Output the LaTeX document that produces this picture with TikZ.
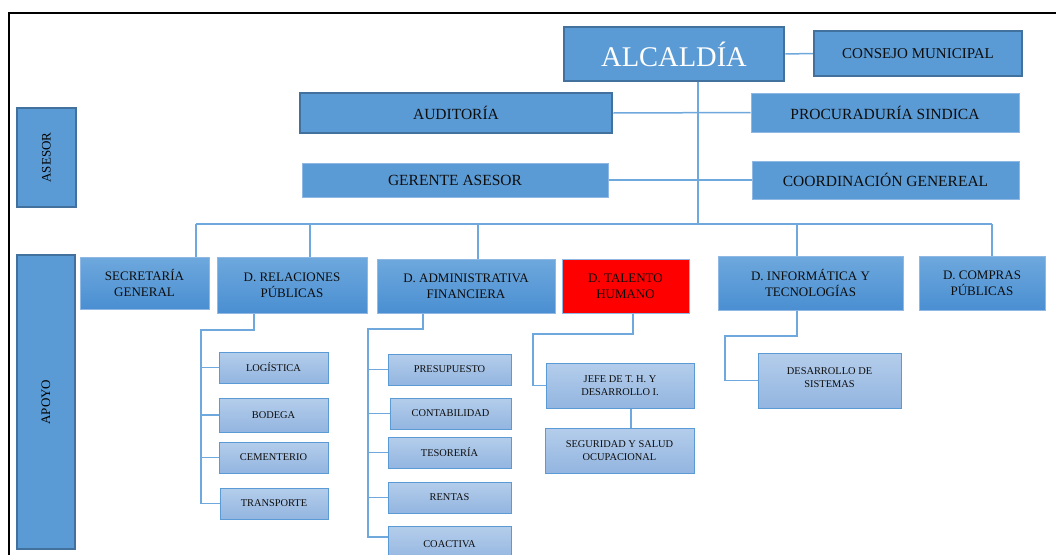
\documentclass[tikz,border=0pt]{standalone}
\usepackage{fontspec}
\setmainfont{Liberation Serif}
\usetikzlibrary{calc}
\definecolor{mblue}{HTML}{5B9BD5}
\definecolor{dblue}{HTML}{41719C}
\definecolor{lblue}{HTML}{8FB8E4}
\definecolor{gtop}{HTML}{6EA8DD}
\definecolor{gbot}{HTML}{4A8FD2}
\definecolor{stop}{HTML}{B4CDEB}
\definecolor{sbot}{HTML}{93B5E0}
\definecolor{linkc}{HTML}{6FA8DC}
\definecolor{txt}{HTML}{0D0D0D}
\tikzset{
 base/.style={rectangle, inner sep=0pt, align=center, text=txt},
 darkbox/.style={base, fill=mblue, draw=dblue, line width=2.5pt},
 flatbox/.style={base, fill=mblue, draw=lblue, line width=1pt, font=\fontsize{15.5}{18}\selectfont},
 deptbox/.style={base, top color=gtop, bottom color=gbot, draw=lblue, line width=1pt, font=\fontsize{13}{16}\selectfont},
 redbox/.style={base, fill=red, draw=lblue, line width=1pt, font=\fontsize{13}{16}\selectfont},
 subbox/.style={base, top color=stop, bottom color=sbot, draw=mblue, line width=1pt, font=\fontsize{10.4}{13}\selectfont},
 link/.style={draw=linkc, line width=1.5pt},
}
\newcommand{\mybox}[7]{\pgfmathsetmacro{\bwd}{#4-#2}\pgfmathsetmacro{\bht}{#5-#3}\node[#6, minimum width=\bwd pt, minimum height=\bht pt] (#1) at ({(#2+#4)/2},{(#3+#5)/2}) {#7};}
\begin{document}
\begin{tikzpicture}[x=1pt,y=-1pt]
\useasboundingbox (0,0) rectangle (1056,554);
\fill[white] (0,0) rectangle (1056,554);
\draw[line width=2pt] (8.5,556) -- (8.5,12.5) -- (1058,12.5);
% top
\mybox{ase}{17}{108}{76}{207}{darkbox, text=black, font=\fontsize{13}{15}\selectfont}{\rotatebox{90}{ASESOR}}
\mybox{apo}{17}{255}{75}{549}{darkbox, text=black, font=\fontsize{13}{15}\selectfont}{\rotatebox{90}{APOYO}}
\mybox{alc}{564}{27}{784}{81}{darkbox, text=white, font=\fontsize{28.5}{32}\selectfont}{ALCALDÍA}
\mybox{con}{814}{31}{1022}{76}{darkbox, font=\fontsize{15}{18}\selectfont}{CONSEJO MUNICIPAL}
\mybox{aud}{300}{93}{612}{133}{darkbox, font=\fontsize{15.5}{18}\selectfont}{AUDITORÍA}
\mybox{pro}{751}{93}{1019}{132}{flatbox}{PROCURADURÍA SINDICA}
\mybox{ger}{302}{163}{608}{197}{flatbox}{GERENTE ASESOR}
\mybox{coo}{752}{161}{1019}{199}{flatbox}{COORDINACIÓN GENEREAL}
% departments
\mybox{sec}{80}{257}{209}{309}{deptbox}{SECRETARÍA\\GENERAL}
\mybox{rel}{217}{257}{367}{313}{deptbox}{D. RELACIONES\\PÚBLICAS}
\mybox{adm}{377}{259}{555}{313}{deptbox}{D. ADMINISTRATIVA\\FINANCIERA}
\mybox{tal}{562}{259}{689}{313}{redbox}{D. TALENTO\\HUMANO}
\mybox{inf}{718}{256}{903}{310}{deptbox}{D. INFORMÁTICA Y\\TECNOLOGÍAS}
\mybox{com}{919}{256}{1045}{310}{deptbox}{D. COMPRAS\\PÚBLICAS}
% sub units
\mybox{log}{219}{352}{328}{383}{subbox}{LOGÍSTICA}
\mybox{bod}{219}{398}{328}{432}{subbox}{BODEGA}
\mybox{cem}{219}{442}{328}{473}{subbox}{CEMENTERIO}
\mybox{tra}{220}{488}{328}{519}{subbox}{TRANSPORTE}
\mybox{pre}{388}{354}{511}{385}{subbox}{PRESUPUESTO}
\mybox{cot}{390}{398}{511}{429}{subbox}{CONTABILIDAD}
\mybox{tes}{388}{437}{511}{468}{subbox}{TESORERÍA}
\mybox{ren}{388}{482}{511}{513}{subbox}{RENTAS}
\mybox{coa}{388}{526}{511}{562}{subbox}{COACTIVA}
\mybox{jef}{546}{363}{694}{408}{subbox}{JEFE DE T. H. Y\\DESARROLLO I.}
\mybox{seg}{545}{428}{694}{473}{subbox}{SEGURIDAD Y SALUD\\OCUPACIONAL}
\mybox{des}{758}{353}{901}{408}{subbox}{DESARROLLO DE\\SISTEMAS\\[-7pt]}
% connectors
\coordinate (busL) at (196,224);
\coordinate (busR) at (992,224);
\coordinate (busM) at (698,224);
\coordinate (dRel) at (310,224);
\coordinate (dAdm) at (478,224);
\coordinate (dInf) at (797,224);
\draw[link] (busM |- alc.south) -- (busM);
\draw[link] (busL) -- (busR);
\draw[link] (busL) -- (busL |- sec.north);
\draw[link] (dRel) -- (dRel |- rel.north);
\draw[link] (dAdm) -- (dAdm |- adm.north);
\draw[link] (dInf) -- (dInf |- inf.north);
\draw[link] (busR) -- (busR |- com.north);
\draw[link] (alc.east) -- (con.west);
\draw[link] (aud.east) -- (pro.west);
\draw[link] (ger.east) -- (coo.west);
% relaciones
\coordinate (rA) at (254,330);
\coordinate (rB) at (201,330);
\draw[link] (rA |- rel.south) -- (rA) -- (rB) -- (rB |- tra.west) -- (tra.west);
\foreach \n in {log,bod,cem} \draw[link] (rB |- \n.west) -- (\n.west);
% administrativa
\coordinate (aA) at (423,329);
\coordinate (aB) at (368,329);
\coordinate (aE) at (368,537);
\draw[link] (aA |- adm.south) -- (aA) -- (aB) -- (aE) -- (aE -| coa.west);
\foreach \n in {pre,cot,tes,ren} \draw[link] (aB |- \n.west) -- (\n.west);
% talento
\coordinate (tA) at (633,334);
\coordinate (tB) at (533,334);
\coordinate (tC) at (631,418);
\draw[link] (tA |- tal.south) -- (tA) -- (tB) -- (tB |- jef.west) -- (jef.west);
\draw[link] (tC |- jef.south) -- (tC |- seg.north);
% informatica
\coordinate (iA) at (797,336);
\coordinate (iB) at (725,336);
\draw[link] (iA |- inf.south) -- (iA) -- (iB) -- (iB |- des.west) -- (des.west);
\end{tikzpicture}
\end{document}
